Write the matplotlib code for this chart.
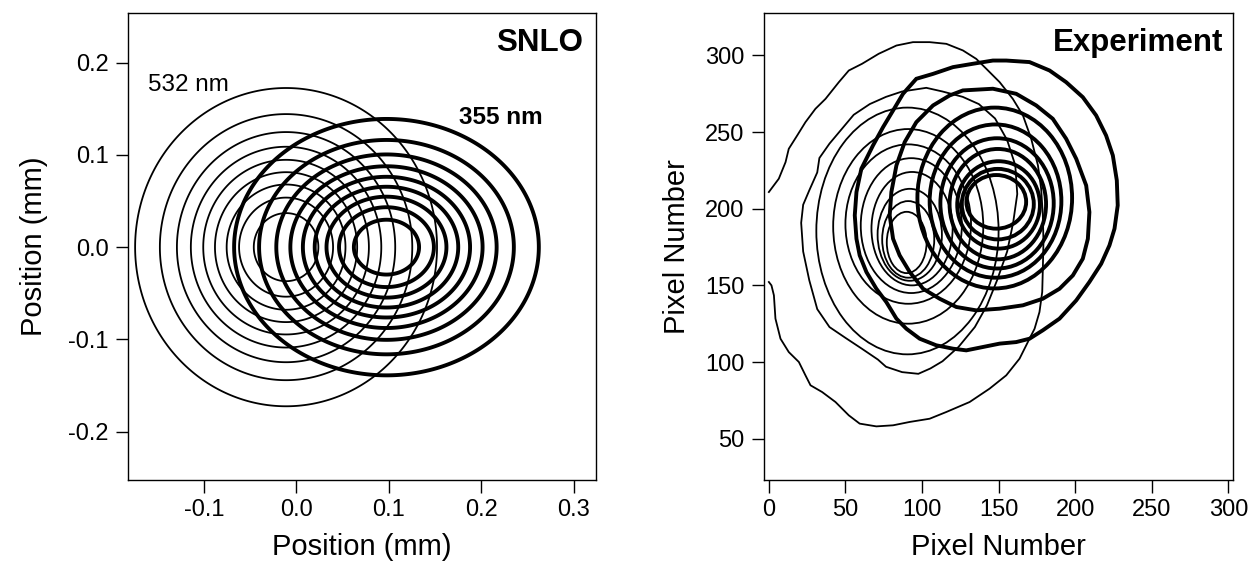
import numpy as np
import matplotlib.pyplot as plt
from matplotlib.patches import Ellipse

plt.rcParams['font.family'] = ['Liberation Sans', 'DejaVu Sans']

# ---- SNLO model beams (mm): gaussian centre and 1/e widths, contour levels
snlo_levels = [0.1, 0.2, 0.3, 0.4, 0.5, 0.6, 0.7, 0.8, 0.9]
g532_center = (-0.0112, 0.0)
g532_width = (0.1077, 0.1137)
g355_center = (0.0975, 0.0)
g355_width = (0.1087, 0.0916)

# ---- Experiment (pixels), 532 nm contours (thin)
# outer contour is cut by the left edge of the camera
e532_outer_x = [0, 6.5, 10.9, 13.0, 18.5, 23.9, 30.4, 37.0, 45.7, 52.2, 60.9, 71.7, 83.3,
                94.1, 105.0, 115.9, 126.7, 135.4, 142.0, 150.7, 159.3, 165.9, 171.3, 175.7,
                177.8, 178.9, 179.3, 178.9, 178.5, 176.7, 173.5, 170.2, 163.7, 155.0, 144.1,
                131.1, 115.9, 105.0, 92.0, 81.1, 70.2, 59.3, 52.2, 43.5, 34.8, 27.2, 23.9,
                19.6, 13.0, 7.6, 4.3, 3.3, 1.7, 0]
e532_outer_y = [210.9, 219.6, 230.4, 239.1, 247.8, 256.5, 265.2, 271.7, 282.6, 290.2, 294.6,
                301.1, 306.5, 308.7, 308.7, 307.6, 303.3, 297.8, 291.3, 282.6, 271.7, 260.9,
                245.7, 228.3, 213.0, 195.7, 178.3, 160.9, 145.7, 132.6, 121.7, 115.2, 102.2,
                91.3, 82.6, 73.9, 67.4, 63.0, 60.9, 58.7, 58.0, 59.8, 65.2, 73.9, 80.4, 84.8,
                91.3, 100.0, 106.5, 115.2, 128.3, 143.5, 150.0, 152.2]
e532_c2_x = [102.8, 87, 76.5, 65.9, 55.4, 47.5, 39.6, 33, 31.6, 26.4, 22.4, 21.1, 22.4, 26.4,
             31.6, 39.6, 50.1, 60.7, 71.2, 76.5, 87, 97.6, 105.5, 113.4, 123.9, 134.5, 142.4,
             149, 155.6, 159.5, 162.2, 160.9, 155.6, 147.7, 137.1, 126.6, 113.4]
e532_c2_y = [278.9, 276.5, 273, 268.3, 261.3, 251.9, 242.5, 233.1, 223.7, 212, 202.6, 190.8,
             172.1, 153.3, 134.5, 122.8, 115.7, 108.7, 101.6, 96.9, 93.4, 92.3, 95.8, 100.5,
             109.9, 122.8, 136.9, 153.3, 172.1, 190.8, 209.6, 228.4, 244.8, 258.9, 268.3,
             273, 276.5]
# inner 532 contours: centre and half sizes
e532_cx = [90.5, 91, 91, 93, 93.5, 92, 91, 90]
e532_cy = [185.5, 188.5, 190, 189, 187, 183, 180, 178]
e532_rx = [59.5, 49, 41, 33, 26.5, 21, 17, 13]
e532_ry = [80.5, 63.5, 52, 44, 37, 30, 25, 20]

# ---- Experiment, 355 nm contours (thick)
e355_c1_x = [155, 146.3, 133.3, 120.2, 107.2, 96.3, 87.6, 81.1, 74.6, 68, 60.4, 57.2, 56.1,
             57.2, 59.3, 63.7, 70.2, 76.7, 83.3, 89.8, 98.5, 109.3, 120.2, 128.9, 139.8,
             150.7, 161.5, 170.2, 178.9, 189.8, 200.7, 209.3, 217, 222.4, 225.7, 227.8,
             227.2, 224.6, 220.2, 213.7, 205, 194.1, 183.3, 170.2]
e355_c1_y = [296.7, 296.7, 294.6, 292.4, 288, 284.8, 275, 264.1, 253.3, 241.3, 226.1, 210.9,
             195.7, 180.4, 169.6, 158.7, 147.8, 139.1, 128.3, 121.7, 115.2, 110.9, 108.7,
             107.6, 109.8, 112, 113, 115.2, 120.7, 128.3, 140.2, 152.2, 164.1, 176.1, 187,
             202.2, 218.5, 234.8, 247.8, 260.9, 272.8, 282.6, 290.2, 295.7]
e355_c2_x = [126.7, 146.3, 161.5, 174.6, 185.4, 194.1, 200.7, 207.2, 209.3, 208.3, 205,
             198.5, 189.8, 178.9, 165.9, 150.7, 135.4, 122.4, 111.5, 100.7, 92, 85.4, 81.1,
             78.9, 80, 83.3, 88.7, 96.3, 107.2, 118]
e355_c2_y = [277.2, 278.3, 275, 267.4, 258.7, 245.7, 232.6, 215.2, 197.8, 180.4, 167.4,
             156.5, 147.8, 141.3, 137, 134.8, 133.7, 135.9, 141.3, 147.8, 158.7, 169.6,
             180.4, 195.7, 210.9, 228.3, 243.5, 256.5, 267.4, 273.9]
e355_cx = [147.5, 148, 149, 149.5, 150, 149.5, 148.5]
e355_cy = [207, 205, 203.5, 203, 202.5, 203, 204.5]
e355_rx = [50.5, 43, 37, 31.5, 27, 23.5, 19.5]
e355_ry = [59, 50, 42.5, 36, 28.5, 23, 17.5]

thin = 1.3
thick = 2.8
fs_tick = 17
fs_label = 21
fs_title = 22.5

fig = plt.figure(figsize=(12.53, 5.65), dpi=100)
ax1 = fig.add_axes([0.1024, 0.1504, 0.3730, 0.8260])
ax2 = fig.add_axes([0.6097, 0.1504, 0.3745, 0.8260])

# ---------------- SNLO panel
xg = np.linspace(-0.19, 0.33, 600)
yg = np.linspace(-0.26, 0.26, 600)
X, Y = np.meshgrid(xg, yg)
f532 = np.exp(-((X - g532_center[0]) / g532_width[0])**2 - ((Y - g532_center[1]) / g532_width[1])**2)
f355 = np.exp(-((X - g355_center[0]) / g355_width[0])**2 - ((Y - g355_center[1]) / g355_width[1])**2)
ax1.contour(X, Y, f532, levels=snlo_levels, colors='black', linewidths=thin)
ax1.contour(X, Y, f355, levels=snlo_levels, colors='black', linewidths=thick)

ax1.set_xlim(-0.182, 0.324)
ax1.set_ylim(-0.2525, 0.2535)
ax1.set_xticks([-0.1, 0.0, 0.1, 0.2, 0.3])
ax1.set_xticklabels(['-0.1', '0.0', '0.1', '0.2', '0.3'])
ax1.set_yticks([-0.2, -0.1, 0.0, 0.1, 0.2])
ax1.set_yticklabels(['-0.2', '-0.1', '0.0', '0.1', '0.2'])
ax1.set_xlabel('Position (mm)', fontsize=fs_label, labelpad=8)
ax1.set_ylabel('Position (mm)', fontsize=fs_label, labelpad=15)
ax1.text(0.973, 0.919, 'SNLO', transform=ax1.transAxes, ha='right', va='baseline',
         fontsize=fs_title, fontweight='bold')
ax1.text(-0.1603, 0.1697, '532 nm', ha='left', va='baseline', fontsize=17.5)
ax1.text(0.1755, 0.1336, '355 nm', ha='left', va='baseline', fontsize=17.5, fontweight='bold')

# ---------------- Experiment panel
ax2.plot(e532_outer_x, e532_outer_y, color='black', lw=thin)
ax2.fill(e532_c2_x, e532_c2_y, fill=False, edgecolor='black', lw=thin)
for cx, cy, rx, ry in zip(e532_cx, e532_cy, e532_rx, e532_ry):
    ax2.add_patch(Ellipse((cx, cy), 2 * rx, 2 * ry, fill=False, edgecolor='black', lw=thin))
ax2.fill(e355_c1_x, e355_c1_y, fill=False, edgecolor='black', lw=thick)
ax2.fill(e355_c2_x, e355_c2_y, fill=False, edgecolor='black', lw=thick)
for cx, cy, rx, ry in zip(e355_cx, e355_cy, e355_rx, e355_ry):
    ax2.add_patch(Ellipse((cx, cy), 2 * rx, 2 * ry, fill=False, edgecolor='black', lw=thick))

ax2.set_xlim(-3.2, 303.2)
ax2.set_ylim(23, 327.5)
ax2.set_xticks([0, 50, 100, 150, 200, 250, 300])
ax2.set_yticks([50, 100, 150, 200, 250, 300])
ax2.set_xlabel('Pixel Number', fontsize=fs_label, labelpad=8)
ax2.set_ylabel('Pixel Number', fontsize=fs_label, labelpad=10)
ax2.text(0.979, 0.919, 'Experiment', transform=ax2.transAxes, ha='right', va='baseline',
         fontsize=fs_title, fontweight='bold')

for ax in (ax1, ax2):
    ax.tick_params(direction='out', length=9, width=1.0, labelsize=fs_tick, pad=5,
                   top=False, right=False)
    for s in ax.spines.values():
        s.set_linewidth(1.0)

fig.savefig('out.png', dpi=100)
